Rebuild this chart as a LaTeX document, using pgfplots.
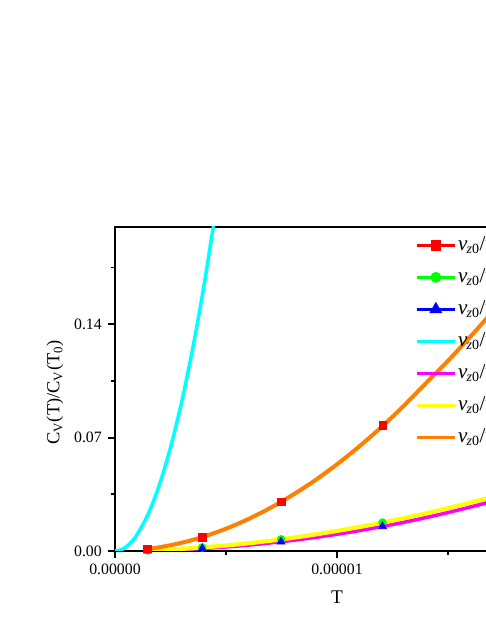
\documentclass[border=0pt]{standalone}
\usepackage{fontspec}
\setmainfont{Liberation Serif}
\usepackage{pgfplots}
\pgfplotsset{compat=1.18}

\definecolor{cred}{RGB}{255,0,0}
\definecolor{cgreen}{RGB}{0,255,0}
\definecolor{cblue}{RGB}{0,0,255}
\definecolor{ccyan}{RGB}{0,255,255}
\definecolor{cmagenta}{RGB}{255,0,255}
\definecolor{cyellow}{RGB}{255,255,0}
\definecolor{corange}{RGB}{255,128,0}

% T in units of 1e-6
\pgfplotstableread{
T y
0.00 0.00000
0.25 0.00064
0.50 0.00255
0.75 0.00574
1.00 0.01020
1.50 0.02295
2.00 0.04080
2.50 0.06380
3.00 0.09180
3.50 0.12500
4.00 0.16320
4.50 0.20660
}\cyandata

\pgfplotstableread{
T y
1.40 0.000184
2 0.00038
3 0.00088
4 0.00158
5 0.00250
6 0.00363
7 0.00498
8 0.00655
9 0.00833
10 0.01035
11 0.01258
12 0.01503
13 0.01771
14 0.02062
15 0.02374
16 0.02712
17 0.03071
18 0.03453
19 0.03858
20 0.04288
}\magentadata

\pgfplotstableread{
T y
1.40 0.000313
2 0.00061
3 0.00130
4 0.00223
5 0.00339
6 0.00476
7 0.00635
8 0.00815
9 0.01017
10 0.01238
11 0.01480
12 0.01742
13 0.02020
14 0.02323
15 0.02642
16 0.02984
17 0.03340
18 0.03712
19 0.04107
20 0.04526
}\yellowdata

\pgfplotstableread{
T y
1.43 0.00118
2 0.00228
3 0.00506
4 0.00889
5 0.01376
6 0.01967
7 0.02660
8 0.03460
9 0.04350
10 0.05350
11 0.06450
12 0.07650
13 0.08950
14 0.10350
15 0.11740
16 0.13220
17 0.14760
18 0.16400
19 0.18110
20 0.19880
}\orangedata

\pgfplotstableread{
T y
1.47 0.00125
3.93 0.00860
7.48 0.03030
12.07 0.07740
17.70 0.15900
}\reddata

\pgfplotstableread{
T y
1.47 0.00034
3.93 0.00216
7.48 0.00720
12.05 0.01755
17.70 0.03600
}\greendata

\pgfplotstableread{
T y
1.47 0.000203
3.93 0.00153
7.48 0.00570
12.05 0.01516
17.70 0.03340
}\bluedata

\newcommand{\vz}{\textit{v}\kern-0.04em\textsubscript{\textit{z}0}\kern-0.02em/\textit{v}\textsubscript{\textit{zc}}\,=\,}

\begin{document}
\begin{tikzpicture}[trim left=-2.3cm, trim right=7.4cm]
\path (-2.3,-1.52) rectangle (7.4,11.02);
\begin{axis}[
  at={(0,0)}, anchor=south west,
  scale only axis, width=8.88cm, height=6.48cm,
  xmin=0, xmax=20, ymin=0, ymax=0.2,
  xtick={0,10,20}, xticklabels={0.00000,0.00001,0.00002},
  minor xtick={5,15},
  ytick={0,0.07,0.14}, yticklabels={0.00,0.07,0.14},
  minor ytick={0.035,0.105,0.175},
  xtick pos=bottom, ytick pos=left,
  tick align=outside,
  major tick length=0.14cm, minor tick length=0.08cm,
  axis line style={line width=1.2pt},
  tick style={line width=1.1pt, black},
  tick label style={font=\fontsize{9}{10}\selectfont},
  xlabel={T},
  ylabel={C\textsubscript{V}(T)/C\textsubscript{V}(T\textsubscript{0})},
  every axis x label/.style={at={(axis description cs:0.5,-0.142)}, anchor=center, font=\fontsize{11}{12}\selectfont},
  every axis y label/.style={at={(axis description cs:-0.135,0.49)}, anchor=center, rotate=90, font=\fontsize{10.5}{12}\selectfont},
  legend cell align=left,
  legend style={draw=none, fill=none, at={(axis description cs:0.6757,0.9938)}, anchor=north west,
    inner sep=0pt, row sep=0pt,
    nodes={inner sep=0pt, inner xsep=1pt, text height=0.42cm, text depth=0.22cm, font=\fontsize{12}{14}\selectfont}},
  legend image code/.code={\draw[mark repeat=2,mark phase=2] plot coordinates {(0cm,0cm) (0.38cm,0cm) (0.76cm,0cm)};},
]
\addlegendimage{cred, line width=1.7pt, mark=square*, mark size=2.2pt}
\addlegendentry{\vz 0.2}
\addlegendimage{cgreen, line width=1.7pt, mark=*, mark size=2.2pt}
\addlegendentry{\vz 0.4}
\addlegendimage{cblue, line width=1.7pt, mark=triangle*, mark size=2.6pt}
\addlegendentry{\vz 0.6}
\addlegendimage{ccyan, line width=1.7pt}
\addlegendentry{\vz 0.8}
\addlegendimage{cmagenta, line width=1.7pt}
\addlegendentry{\vz 1.0}
\addlegendimage{cyellow, line width=1.7pt}
\addlegendentry{\vz 1.2}
\addlegendimage{corange, line width=1.7pt}
\addlegendentry{\vz 1.4}

\addplot[cgreen, only marks, mark=*, mark size=2.2pt, forget plot] table {\greendata};
\addplot[cblue, only marks, mark=triangle*, mark size=2.6pt, forget plot] table {\bluedata};
\addplot[ccyan, line width=2pt, smooth, forget plot] table {\cyandata};
\addplot[cmagenta, line width=2pt, smooth, forget plot] table {\magentadata};
\addplot[cyellow, line width=2.4pt, smooth, forget plot] table {\yellowdata};
\addplot[corange, line width=2.3pt, smooth, forget plot] table {\orangedata};
\addplot[cred, only marks, mark=square*, mark size=2.2pt, forget plot] table {\reddata};
\end{axis}
\end{tikzpicture}
\end{document}
